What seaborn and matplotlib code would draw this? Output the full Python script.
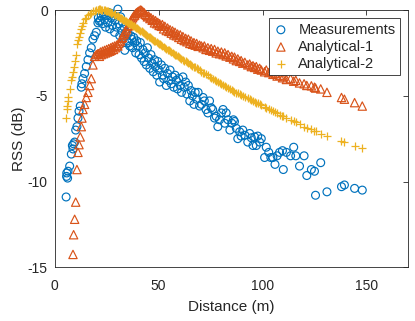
import numpy as np
import pandas as pd
import matplotlib
matplotlib.use("Agg")
import matplotlib.pyplot as plt
import seaborn as sns

nan = np.nan

# ---------------- data ----------------
distance = [
    5.5, 5.7, 5.8, 6.2, 6.4, 7.2, 8.0, 8.5, 8.8, 9.1, 9.6, 10.1, 10.7, 11.2, 11.7, 12.3, 12.8, 13.1, 13.6, 14.4,
    15.2, 16.0, 16.8, 17.6, 18.4, 19.2, 20.0, 20.8,
    21.0, 21.5, 22.0, 22.4, 23.0, 23.5, 24.0, 24.5, 25.0, 25.5, 26.0, 26.5, 27.0, 27.2, 27.8, 28.3, 28.8, 29.2,
    29.8, 30.4, 30.8, 31.3, 31.7, 32.2, 32.6, 33.0, 33.4, 33.7, 34.2, 34.7, 35.2, 35.6, 36.1, 36.6, 37.0, 37.5,
    38.0, 38.5, 39.0, 39.5, 40.0,
    40.6, 41.2, 41.8, 42.4, 43.0, 43.5, 44.1, 44.6, 45.2, 45.8, 46.3, 46.9, 47.4, 48.0, 48.5, 49.1, 49.6, 50.2,
    50.5, 51.3, 51.8, 52.4, 53.0, 53.7, 54.3, 54.9, 55.5, 56.1, 56.7, 57.3, 57.9, 58.5, 59.1, 59.7, 60.4, 61.0,
    61.7, 62.3, 63.0, 63.6, 64.3, 65.0, 65.6, 66.3, 67.0, 67.6, 68.3, 69.0, 69.7,
    70.6, 71.4, 72.0, 72.8, 73.7, 74.5, 75.3, 76.0, 76.9, 77.7, 78.5, 79.3, 80.2, 81.0, 81.8, 82.5, 83.4, 84.3,
    85.2, 86.0, 86.5, 87.4, 88.1, 89.0, 89.7, 90.5, 91.5, 92.9, 93.8, 94.6, 95.4, 96.2, 97.0, 97.7, 98.6, 99.4,
    101.0, 101.8, 103.0, 104.0, 105.0, 106.0, 107.0, 108.2, 109.6, 110.0, 111.5, 113.5, 115.0, 116.0, 117.8,
    120.0, 121.3, 123.5, 125.0, 125.5, 128.0, 131.0, 138.0, 139.4, 144.3, 148.0,
]

measurements = [
    -10.9, -9.7, -9.5, -9.8, -9.4, -9.1, -8.4, -7.9, -8.1, -7.8, -7.7, -7.0, -6.8, -6.3, -5.9, -5.6, -4.5, -4.3,
    -4.0, -3.7, -3.3, -2.9, -2.5, -2.2, -1.7, -1.5, -1.3, -0.75,
    -0.45, -0.65, -0.6, -0.35, -0.8, -0.25, -0.55, -1.0, -0.3, -0.75, -0.15, -1.1, -0.45, -0.2, -0.9, -0.35,
    -1.3, -0.6, -1.0, 0.05, -0.8, -1.5, -0.4, -1.2, -0.7, -1.6, -1.0, -2.35, -1.3, -1.8, -1.4, -1.9, -2.1, -1.5,
    -1.7, -2.2, -1.6, -1.9, -2.5, -1.8, -2.1,
    -2.6, -1.9, -2.8, -2.3, -3.0, -2.5, -3.2, -2.2, -2.8, -3.4, -2.6, -3.1, -3.6, -2.9, -3.3, -3.8, -3.0, -3.5,
    -4.2, -3.2, -3.8, -4.0, -3.4, -4.4, -3.7, -4.1, -3.5, -4.3, -3.9, -4.5, -3.8, -4.1, -4.6, -4.0, -4.4, -4.8,
    -3.9, -4.5, -4.2, -4.9, -4.4, -5.3, -4.7, -5.0, -5.5, -4.8, -5.2, -4.8, -5.6,
    -5.5, -5.1, -5.3, -5.8, -6.0, -5.3, -5.7, -5.8, -6.3, -6.2, -6.8, -6.4, -6.0, -5.8, -6.6, -6.0, -6.4, -7.0,
    -6.6, -6.4, -6.5, -6.9, -7.5, -7.1, -7.35, -7.0, -7.3, -7.7, -7.2, -7.45, -7.9, -7.4, -7.9, -7.35, -7.7, -7.5,
    -8.6, -8.0, -8.3, -8.6, -8.6, -9.0, -8.5, -8.3, -8.2, -9.3, -8.3, -8.5, -8.0, -8.5, -9.1, -8.5, -9.65, -9.3,
    -9.4, -10.8, -8.9, -10.6, -10.3, -10.2, -10.4, -10.5,
]

analytical_1 = [
    nan, nan, nan, nan, nan, nan, nan, nan, -14.25, -13.1, -12.2, -11.2, -9.3, -8.3, -7.85, -7.4, -6.8, -6.3,
    -5.8, -5.5, -5.1, -4.8, -4.4, -4.0, -3.2, -2.7, -2.6, -2.55,
    -2.55, -2.7, -2.45, -2.6, -2.4, -2.55, -2.35, -2.5, -2.3, -2.45, -2.25, -2.4, -2.2, -2.35, -2.15, -2.3,
    -2.1, -2.2, -2.05, -2.1, -1.95, -1.85, -1.8, -1.65, -1.6, -1.45, -1.4, -1.3, -1.2, -1.1, -0.95, -0.9, -0.75,
    -0.65, -0.55, -0.45, -0.35, -0.3, -0.2, -0.15, -0.1,
    -0.05, 0.0, -0.02, -0.1, -0.15, -0.25, -0.3, -0.4, -0.35, -0.5, -0.45, -0.6, -0.55, -0.75, -0.62, -0.8,
    -0.72, -0.9, -0.8, -0.95, -0.85, -1.1, -0.95, -1.2, -1.05, -1.25, -1.15, -1.35, -1.22, -1.45, -1.3, -1.5,
    -1.4, -1.6, -1.45, -1.7, -1.55, -1.78, -1.65, -1.85, -1.7, -1.95, -1.8, -2.0, -1.9, -2.05, -1.95, -2.12, -2.05,
    -2.1, -2.2, -2.1, -2.3, -2.2, -2.35, -2.25, -2.4, -2.3, -2.5, -2.4, -2.55, -2.45, -2.6, -2.5, -2.68, -2.6,
    -2.75, -2.7, -2.85, -2.75, -2.95, -2.85, -3.0, -2.95, -3.1, -3.05, -3.2, -3.15, -3.3, -3.25, -3.35, -3.3,
    -3.45, -3.4, -3.5,
    -3.6, -3.5, -3.65, -3.6, -3.75, -3.7, -3.85, -3.8, -3.95, -3.88, -4.05, -4.0, -4.15, -4.1, -4.25, -4.3,
    -4.4, -4.42, -4.5, -4.55, -4.6, -4.8, -5.1, -5.2, -5.4, -5.6,
]

analytical_2 = [
    -6.3, -5.8, -5.6, -5.3, -5.1, -4.6, -4.1, -3.9, -3.6, -3.3, -3.0, -2.6, -2.0, -1.75, -1.55, -1.35, -1.1,
    -0.95, -0.75, -0.55, -0.45, -0.3, -0.22, -0.15, -0.07, -0.03, 0.0, 0.02,
    0.02, 0.03, 0.03, 0.02, 0.01, 0.0, -0.01, -0.03, -0.05, -0.07, -0.1, -0.12, -0.15, -0.16, -0.19, -0.22,
    -0.26, -0.29, -0.33, -0.37, -0.4, -0.44, -0.47, -0.5, -0.54, -0.57, -0.6, -0.62, -0.66, -0.7, -0.74, -0.77,
    -0.8, -0.84, -0.87, -0.91, -0.95, -0.99, -1.03, -1.06, -1.1,
    -1.15, -1.2, -1.25, -1.3, -1.35, -1.4, -1.45, -1.5, -1.55, -1.6, -1.64, -1.69, -1.74, -1.79, -1.83, -1.88,
    -1.92, -1.97, -2.0, -2.06, -2.1, -2.15, -2.2, -2.26, -2.31, -2.36, -2.41, -2.46, -2.51, -2.56, -2.6, -2.65,
    -2.7, -2.75, -2.8, -2.85, -2.9, -2.95, -3.0, -3.05, -3.1, -3.15, -3.2, -3.25, -3.3, -3.35, -3.4, -3.45, -3.5,
    -3.6, -3.65, -3.7, -3.75, -3.8, -3.88, -3.95, -4.0, -4.07, -4.13, -4.2, -4.26, -4.33, -4.4, -4.45, -4.5,
    -4.56, -4.62, -4.68, -4.73, -4.76, -4.82, -4.86, -4.92, -4.96, -5.0, -5.06, -5.14, -5.2, -5.25, -5.3, -5.35,
    -5.4, -5.44, -5.5, -5.55,
    -5.65, -5.7, -5.78, -5.84, -5.9, -5.96, -6.02, -6.1, -6.18, -6.2, -6.28, -6.4, -6.5, -6.55, -6.65, -6.8,
    -6.86, -6.96, -7.05, -7.07, -7.2, -7.35, -7.65, -7.7, -7.9, -8.05,
]

series_names = ["Measurements", "Analytical-1", "Analytical-2"]
x_ticks = [0, 50, 100, 150]
y_ticks = [-15, -10, -5, 0]

# ---------------- style ----------------
sns.set_style("white")
plt.rcParams["font.family"] = ["Liberation Sans", "DejaVu Sans"]
plt.rcParams["axes.unicode_minus"] = False
TXT = "#262626"
plt.rcParams["text.color"] = TXT
plt.rcParams["axes.labelcolor"] = TXT
plt.rcParams["xtick.color"] = TXT
plt.rcParams["ytick.color"] = TXT

c_blue = "#0072BD"
c_orange = "#D95319"
c_yellow = "#EDB120"

df = pd.DataFrame({
    "distance": distance,
    "Measurements": measurements,
    "Analytical-1": analytical_1,
    "Analytical-2": analytical_2,
})

fig = plt.figure(figsize=(4.15, 3.21), dpi=100)
ax = fig.add_axes([54.7 / 415, 1 - 267.3 / 321, (408 - 54.7) / 415, (267.3 - 10) / 321])

sns.scatterplot(data=df, x="distance", y="Measurements", ax=ax, marker="o", s=32,
                facecolor="none", edgecolor=c_blue, linewidth=0.85, label=series_names[0],
                clip_on=False, zorder=3)
sns.scatterplot(data=df, x="distance", y="Analytical-1", ax=ax, marker="^", s=36,
                facecolor="none", edgecolor=c_orange, linewidth=0.85, label=series_names[1],
                clip_on=False, zorder=4)
sns.scatterplot(data=df, x="distance", y="Analytical-2", ax=ax, marker="+", s=38,
                color=c_yellow, linewidth=0.9, label=series_names[2],
                clip_on=False, zorder=5)

ax.set_xlim(0, 170)
ax.set_ylim(-15, 0)
ax.set_xticks(x_ticks)
ax.set_yticks(y_ticks)
ax.tick_params(direction="in", length=3.5, width=0.6, top=True, right=True,
               labelsize=10)
ax.tick_params(axis="x", pad=8.5)
ax.tick_params(axis="y", pad=5)
for sp in ax.spines.values():
    sp.set_color(TXT)
    sp.set_linewidth(0.6)
    sp.set_visible(True)
ax.set_xlabel("Distance (m)", fontsize=11, labelpad=5)
ax.set_ylabel("RSS (dB)", fontsize=11, labelpad=1)

leg = ax.legend(loc="upper right", bbox_to_anchor=(0.977, 0.968), borderaxespad=0,
                fontsize=10.5, frameon=True, fancybox=False, framealpha=1,
                edgecolor=TXT, handlelength=1.0, handletextpad=0.7,
                borderpad=0.3, labelspacing=0.22)
leg.get_frame().set_linewidth(0.6)
leg.set_zorder(10)

fig.savefig("out.png", dpi=100)
